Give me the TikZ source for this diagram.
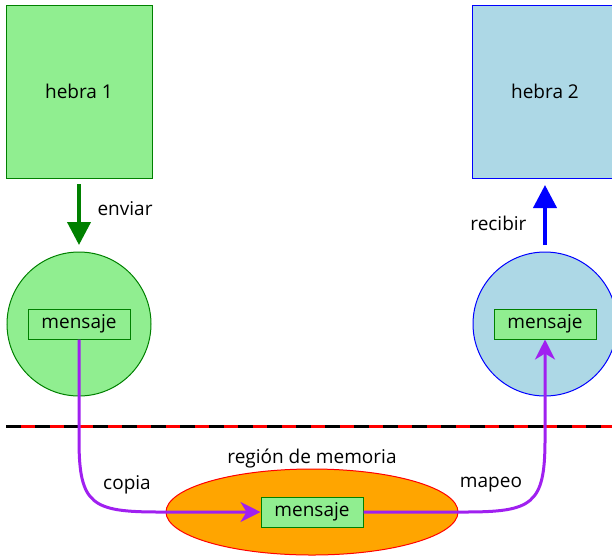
\documentclass[tikz,border=0pt]{standalone}
\usepackage{fontspec}
\setmainfont{Open Sans}
\usetikzlibrary{arrows.meta,shapes.geometric}
\definecolor{lgreen}{RGB}{144,238,144}
\definecolor{dgreen}{RGB}{0,128,0}
\definecolor{lblue}{RGB}{173,216,230}
\definecolor{msgpurple}{RGB}{160,32,240}
\definecolor{memorange}{RGB}{255,165,0}
\tikzset{
  thread/.style={minimum width=146pt, minimum height=173pt, inner sep=0pt},
  port/.style={circle, minimum size=144pt, inner sep=0pt},
  msg/.style={draw=dgreen, fill=lgreen, minimum width=102pt, minimum height=30pt, inner sep=0pt, line width=1pt},
  flow/.style={draw=msgpurple, line width=3pt, -{Stealth[length=20pt,width=20pt,inset=6pt]}},
  bigarrow/.style={line width=4pt, -{Triangle[length=23pt,width=23pt]}},
  label/.style={}
}
\begin{document}
\begin{tikzpicture}[x=1pt,y=-1pt,font=\fontsize{19}{23}\selectfont]
\useasboundingbox (0,0) rectangle (612,555);
\clip (0,0) rectangle (612,555);

% threads
\node[thread, draw=dgreen, fill=lgreen, line width=1pt] (h1) at (79,91.5) {hebra 1};
\node[thread, draw=blue, fill=lblue, line width=1pt] (h2) at (545,91.5) {hebra 2};

% ports
\node[port, draw=dgreen, fill=lgreen, line width=1pt] (p1) at (79,324) {};
\node[port, draw=blue, fill=lblue, line width=1pt] (p2) at (545,324) {};
\node[msg] (m1) at (79,324) {mensaje};
\node[msg] (m2) at (545,324) {mensaje};

% send / receive
\coordinate (sendtip) at (79,245);
\coordinate (recvtip) at (545,185);
\draw[dgreen, bigarrow] (79,184) -- (sendtip);
\node[label, anchor=west] (env) at (94,209) {enviar};
\draw[blue, bigarrow] (545,245) -- (recvtip);
\node[label, anchor=east] (rec) at (530,223) {recibir};

% boundary line
\coordinate (bl) at (6,426);
\coordinate (br) at (612,426);
\draw[black, line width=3pt] (bl) -- (br);
\draw[red, line width=3pt, dash pattern=on 14.5pt off 14.5pt, dash phase=14.5pt] (bl) -- (br);

% memory region
\node[ellipse, draw=red, fill=memorange, minimum width=292pt, minimum height=86pt, inner sep=0pt, line width=1pt] (mem) at (312,512) {};
\node[label] (memlbl) at (312,458) {región de memoria};
\node[msg] (m3) at (312,512) {mensaje};

% copy and map flows
\draw[flow] (m1.south) -- (79,440) .. controls (79,505) and (92,512) .. (160,512) -- (m3.west);
\draw[flow] (m3.east) -- (464,512) .. controls (532,512) and (545,505) .. (545,440) -- (m2.south);
\node[label] (cop) at (127,485) {copia};
\node[label] (map) at (491,485) {mapeo};
\end{tikzpicture}
\end{document}
